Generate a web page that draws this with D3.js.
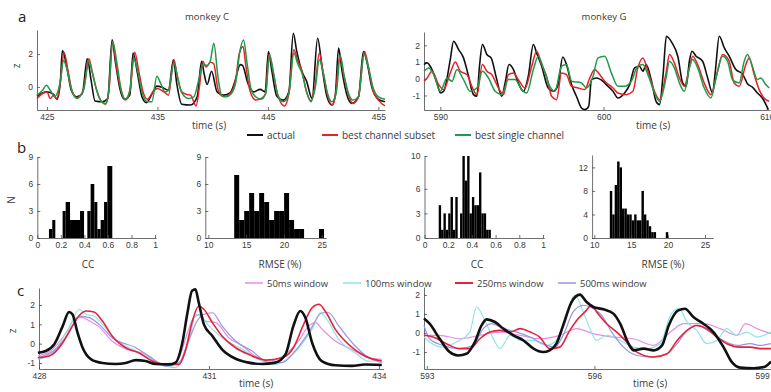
<!DOCTYPE html>
<html>
<head>
<meta charset="utf-8">
<script src="https://cdn.jsdelivr.net/npm/d3@7"></script>
<style>
  body { margin: 0; background: #fff; }
  svg { font-family: "Open Sans", sans-serif; }
</style>
</head>
<body>
<svg id="fig" width="771" height="392"></svg>
<script>
// ---- panel a, monkey C: [time (s), z]
const aC_actual = [[424.1,-0.55],[425.0,-0.3],[425.6,-0.45],[425.9,-0.75],[426.2,0.2],[426.4,2.2],[426.8,1.2],[427.2,-0.2],[427.7,-0.6],[428.2,-0.4],[428.65,1.7],[429.0,0.4],[429.35,-0.85],[430.0,-0.9],[430.5,-0.7],[430.9,2.85],[431.2,1.5],[431.6,-0.1],[432.0,-0.75],[432.5,-0.5],[432.8,2.05],[433.2,0.8],[433.6,-0.6],[434.0,-0.95],[434.6,-0.3],[434.95,0.05],[435.5,-0.05],[436.0,-0.2],[436.45,1.65],[436.75,0.2],[437.2,-1.05],[438.0,-1.1],[438.6,-0.6],[439.0,1.55],[439.2,0.9],[439.5,0.15],[439.9,0.95],[440.4,-0.3],[441.0,-0.5],[441.6,-0.35],[442.0,0.3],[442.5,1.35],[442.7,1.3],[443.2,0.2],[443.7,-0.3],[444.3,-0.15],[444.75,-0.3],[445.05,2.15],[445.35,1.0],[445.8,-0.55],[446.4,-0.8],[446.9,-0.3],[447.3,3.25],[447.6,2.2],[448.1,0.9],[448.5,0.35],[449.0,-0.7],[449.5,2.95],[449.9,1.2],[450.35,-0.6],[450.8,-1.1],[451.1,-0.5],[451.4,2.35],[451.7,1.0],[452.2,-0.6],[452.6,-1.0],[453.2,-0.6],[453.65,2.15],[454.0,1.4],[454.4,0.0],[455.0,-0.75],[455.6,-0.9]]
const aC_subset = [[424.1,-0.7],[424.6,-0.4],[425.0,-0.3],[425.3,-0.7],[425.6,-0.5],[425.9,-0.7],[426.25,0.5],[426.55,2.1],[426.9,1.0],[427.3,-0.3],[427.7,-0.65],[428.3,-0.2],[428.8,1.7],[429.1,0.9],[429.5,-0.2],[429.9,-0.85],[430.3,-1.05],[430.6,-0.3],[430.95,2.75],[431.3,1.2],[431.7,-0.2],[432.1,-0.8],[432.5,-0.3],[432.95,2.1],[433.3,1.0],[433.7,-0.3],[434.1,-0.75],[434.5,-0.4],[435.0,-0.1],[435.6,-0.3],[436.0,-0.5],[436.5,1.65],[436.8,0.6],[437.2,-0.3],[437.6,-0.45],[438.0,-0.5],[438.5,-1.15],[438.8,0.0],[439.1,1.55],[439.4,1.2],[439.8,1.5],[440.1,1.4],[440.5,-0.2],[441.0,-0.6],[441.6,-0.4],[442.1,0.5],[442.4,2.0],[442.75,2.45],[443.0,1.3],[443.4,-0.3],[443.9,-0.8],[444.4,-0.7],[444.8,-0.4],[445.1,1.95],[445.5,0.8],[445.9,-0.5],[446.5,-1.15],[446.9,-0.4],[447.35,2.25],[447.7,1.6],[448.1,0.9],[448.5,-0.3],[448.9,-0.9],[449.3,0.2],[449.65,2.05],[450.0,0.9],[450.4,-0.5],[450.8,-1.1],[451.1,-0.6],[451.5,1.85],[451.9,0.6],[452.3,-0.5],[452.7,-1.0],[453.2,-0.6],[453.75,2.15],[454.1,1.2],[454.5,-0.2],[455.0,-0.8],[455.6,-1.15]]
const aC_single = [[424.1,-0.5],[424.6,-0.2],[424.95,0.1],[425.3,-0.2],[425.7,-0.6],[426.2,0.3],[426.5,1.6],[426.8,1.1],[427.2,-0.1],[427.7,-0.7],[428.3,-0.2],[428.8,1.55],[429.1,0.9],[429.5,-0.2],[429.9,-0.85],[430.3,-1.0],[430.6,-0.2],[430.95,2.75],[431.3,1.6],[431.7,-0.1],[432.1,-0.75],[432.5,-0.2],[432.85,1.75],[433.2,1.0],[433.6,-0.3],[434.1,-0.9],[434.5,-0.9],[434.95,0.65],[435.3,0.2],[435.7,-0.3],[436.0,-0.2],[436.5,1.45],[436.8,0.7],[437.2,-0.35],[437.8,-0.7],[438.3,-0.6],[438.8,0.6],[439.1,1.35],[439.5,1.3],[439.8,1.6],[440.1,2.65],[440.5,0.5],[440.8,-0.5],[441.2,-0.6],[441.7,-0.4],[442.1,0.3],[442.45,2.1],[442.8,2.85],[443.1,1.5],[443.5,-0.2],[443.9,-0.6],[444.4,-0.75],[444.8,-0.4],[445.15,1.95],[445.5,0.9],[445.9,-0.5],[446.4,-0.9],[446.9,-0.4],[447.35,2.05],[447.7,1.4],[448.1,0.8],[448.5,-0.3],[448.9,-0.85],[449.3,0.0],[449.65,1.65],[450.0,0.9],[450.4,-0.4],[450.8,-0.9],[451.2,-0.3],[451.55,1.9],[451.9,0.7],[452.3,-0.4],[452.7,-0.8],[453.2,-0.6],[453.7,2.0],[454.1,1.2],[454.5,0.0],[455.0,-0.6],[455.6,-0.75]]

// ---- panel a, monkey G
const aG_actual = [[589.0,0.85],[589.19,0.95],[589.49,0.55],[589.8,-0.25],[590.0,-0.85],[590.2,-0.75],[590.61,1.15],[590.81,2.25],[591.12,1.75],[591.42,1.25],[591.73,0.15],[592.03,-0.95],[592.24,-1.05],[592.4,0.75],[592.58,2.05],[592.85,1.45],[593.11,1.25],[593.46,-0.05],[593.76,-1.05],[593.97,-0.25],[594.21,0.85],[594.48,0.55],[594.78,-0.25],[595.09,-0.75],[595.39,0.15],[595.7,2.05],[595.9,1.55],[596.21,0.75],[596.61,-0.55],[596.92,-0.75],[597.22,-0.35],[597.5,1.3],[597.73,0.85],[598.04,-0.35],[598.34,-1.05],[598.65,-1.75],[598.85,-1.85],[599.09,-1.65],[599.26,-0.05],[599.56,0.05],[599.97,-0.15],[600.17,-0.35],[600.58,-0.75],[600.88,-1.15],[601.29,-0.85],[601.6,-0.35],[601.9,0.65],[602.2,0.75],[602.41,0.45],[602.61,0.85],[602.92,-0.05],[603.22,-1.35],[603.43,-1.55],[603.65,0.25],[603.85,2.55],[604.2,2.15],[604.55,1.35],[604.85,-0.25],[605.06,-0.45],[605.26,1.05],[605.42,1.65],[605.67,1.35],[606.07,1.05],[606.38,0.05],[606.68,-0.85],[606.85,0.45],[607.09,2.55],[607.4,1.85],[607.7,1.35],[608.11,0.55],[608.51,0.3],[608.82,-0.3],[609.12,-0.5],[609.43,-0.85],[609.73,-1.15],[610.1,-1.85]]
const aG_subset = [[589.0,-0.15],[589.19,0.05],[589.49,0.45],[589.9,-0.35],[590.2,-0.65],[590.61,0.35],[590.92,1.0],[591.22,0.45],[591.63,0.25],[591.97,-0.55],[592.24,-0.95],[592.58,0.85],[592.85,0.45],[593.15,0.25],[593.56,-0.55],[593.87,-0.95],[594.17,0.25],[594.48,0.35],[594.78,-0.05],[595.19,-0.55],[595.6,0.75],[595.9,1.65],[596.21,0.85],[596.51,0.15],[596.82,-1.05],[597.12,-1.25],[597.43,0.35],[597.73,0.25],[598.04,-0.45],[598.44,-0.55],[598.85,-0.65],[599.16,0.05],[599.46,0.55],[599.76,0.25],[600.07,-0.15],[600.58,-0.55],[600.88,-0.85],[601.39,-0.95],[601.8,-0.75],[602.1,0.65],[602.41,1.25],[602.72,0.45],[603.12,-0.75],[603.43,-1.25],[603.83,0.35],[604.04,1.45],[604.34,0.95],[604.65,0.05],[604.95,-0.45],[605.26,0.65],[605.46,1.35],[605.77,0.85],[606.17,-0.25],[606.58,-0.95],[606.99,0.45],[607.29,1.45],[607.7,1.05],[608.0,-0.25],[608.31,-0.45],[608.72,0.85],[608.92,1.25],[609.23,0.25],[609.53,-0.65],[609.94,-1.25],[610.15,-1.35]]
const aG_single = [[589.0,0.45],[589.29,0.65],[589.59,0.25],[590.0,-0.75],[590.41,0.05],[590.71,-0.15],[591.02,0.55],[591.42,-0.05],[591.83,-0.75],[592.24,-0.55],[592.58,0.45],[592.95,0.05],[593.36,-0.75],[593.76,-0.95],[594.17,-0.05],[594.58,-0.05],[594.98,-0.65],[595.29,-0.85],[595.7,0.55],[596.0,1.35],[596.31,0.65],[596.71,-0.45],[597.02,-0.75],[597.43,0.75],[597.73,0.85],[598.04,-0.15],[598.65,-0.25],[598.95,-0.55],[599.36,0.15],[599.66,1.25],[600.07,1.35],[600.48,0.35],[600.88,-0.45],[601.29,-0.45],[601.7,-0.15],[602.1,0.75],[602.41,0.85],[602.72,0.25],[603.12,-0.85],[603.43,-1.35],[603.83,0.05],[604.04,1.05],[604.34,0.65],[604.65,-0.25],[604.95,-0.75],[605.26,0.65],[605.46,1.15],[605.77,0.65],[606.17,-0.55],[606.58,-1.15],[606.89,0.05],[607.29,1.35],[607.6,1.05],[607.9,-0.05],[608.31,-0.25],[608.62,1.05],[608.82,1.45],[609.12,0.75],[609.43,-0.05],[609.63,0.05],[609.94,-0.35],[610.15,-0.55]]

// ---- panel b, histograms: bin edges and counts
const ccC_edges = [0.099,0.127,0.153,0.215,0.241,0.278,0.363,0.397,0.425,0.453,0.484,0.51,0.538,0.567,0.595,0.637]
const ccC_counts = [1,2,0,3,4,2,3,0,3,6,4,1,2,4,8]
const rmseC_edges = [13.42,14.08,14.74,15.4,16.06,16.72,17.38,18.04,18.7,19.36,20.02,20.68,21.34,22.0,22.66,23.32,23.98,24.64,25.3]
const rmseC_counts = [7,2,3,5,3,5,4,2,3,3,5,2,1,1,0,0,0,1]
const ccG_edges = [0.12,0.14,0.16,0.18,0.2,0.22,0.24,0.26,0.28,0.3,0.32,0.34,0.36,0.38,0.4,0.42,0.44,0.46,0.48,0.5,0.52,0.54,0.56]
const ccG_counts = [4,1,3,1,3,5,1,5,0,3,10,7,10,3,5,4,4,8,3,3,1,1]
const rmseG_edges = [12.1,12.43,12.76,13.09,13.42,13.75,14.08,14.41,14.74,15.07,15.4,15.73,16.06,16.39,16.72,17.05,17.38,17.71,18.04,18.37,18.7,19.03,19.36,19.69,20.02]
const rmseG_counts = [8,4,9,13,12,5,5,4,4,3,4,3,3,8,4,3,2,1,1,0,0,0,0,1]

// ---- panel c, monkey C
const cC_actual = [[427.98,-0.47],[428.12,-0.38],[428.27,-0.03],[428.42,0.92],[428.53,1.64],[428.59,1.52],[428.68,0.57],[428.77,-0.21],[428.92,-0.81],[429.12,-1.0],[429.35,-1.05],[429.53,-1.0],[429.71,-0.85],[429.88,-0.9],[430.06,-1.05],[430.29,-1.07],[430.41,-0.98],[430.53,0.05],[430.62,1.6],[430.7,2.73],[430.76,2.81],[430.82,2.12],[430.91,1.0],[431.06,0.4],[431.23,-0.29],[431.47,-0.78],[431.7,-0.98],[431.94,-1.05],[432.17,-0.98],[432.35,-0.55],[432.49,0.92],[432.61,1.69],[432.7,1.35],[432.82,0.05],[432.99,-0.9],[433.23,-1.12],[433.52,-1.15],[433.75,-1.08],[434.05,-1.1]]
const cC_w50 = [[427.98,-0.64],[428.24,-0.29],[428.48,0.57],[428.66,1.35],[428.77,1.35],[428.89,1.17],[429.04,0.92],[429.29,0.14],[429.65,-0.38],[429.82,-0.47],[430.06,-0.9],[430.29,-1.16],[430.47,-0.73],[430.62,0.57],[430.73,1.35],[430.85,1.52],[430.94,1.17],[431.12,1.09],[431.35,0.31],[431.59,-0.12],[431.82,-0.64],[432.06,-0.9],[432.35,-0.55],[432.58,0.14],[432.76,0.92],[432.88,1.09],[433.0,0.74],[433.23,0.14],[433.52,-0.29],[433.82,-0.73],[434.05,-0.81]]
const cC_w100 = [[427.98,-0.81],[428.24,-0.47],[428.53,0.83],[428.71,1.78],[428.83,1.52],[428.97,1.43],[429.12,1.0],[429.35,0.22],[429.65,-0.29],[429.88,-0.64],[430.18,-1.07],[430.41,-1.24],[430.56,-0.64],[430.68,0.57],[430.76,1.52],[430.85,1.43],[431.0,0.92],[431.23,0.31],[431.59,-0.29],[431.94,-0.9],[432.17,-1.07],[432.41,-0.73],[432.64,-0.03],[432.85,0.92],[432.96,1.6],[433.08,1.26],[433.29,0.22],[433.58,-0.47],[433.82,-0.9],[434.05,-0.85]]
const cC_w250 = [[427.98,-0.73],[428.18,-0.64],[428.42,0.05],[428.59,0.92],[428.73,1.52],[428.83,1.69],[428.97,1.64],[429.12,1.17],[429.29,0.4],[429.53,-0.21],[429.76,-0.47],[430.0,-0.9],[430.23,-1.07],[430.47,-1.07],[430.59,-0.29],[430.7,1.09],[430.82,1.95],[430.91,1.78],[431.06,1.09],[431.23,0.4],[431.47,-0.21],[431.7,-0.55],[432.0,-0.85],[432.29,-0.73],[432.49,-0.21],[432.67,1.0],[432.82,1.86],[432.94,2.04],[433.05,1.69],[433.23,0.74],[433.46,-0.03],[433.75,-0.64],[434.05,-0.9]]
const cC_w500 = [[427.98,-0.73],[428.29,-0.29],[428.53,0.57],[428.71,1.43],[428.89,1.35],[429.06,1.0],[429.29,0.31],[429.71,-0.21],[429.94,-0.64],[430.23,-1.16],[430.47,-0.98],[430.65,0.22],[430.79,1.17],[430.91,1.52],[431.06,1.6],[431.23,0.92],[431.47,0.14],[431.76,-0.38],[432.06,-0.98],[432.29,-0.98],[432.52,-0.38],[432.76,0.57],[433.0,1.6],[433.11,1.6],[433.29,0.92],[433.58,-0.12],[433.82,-0.73],[434.05,-0.98]]

// ---- panel c, monkey G
const cG_actual = [[592.95,0.76],[593.05,0.49],[593.23,-0.3],[593.41,-1.0],[593.56,-1.18],[593.71,-1.09],[593.86,-0.47],[593.98,0.4],[594.07,0.72],[594.22,0.58],[594.37,0.23],[594.55,-0.12],[594.73,-0.39],[594.91,-0.82],[595.08,-1.0],[595.2,-0.91],[595.32,-0.56],[595.44,0.4],[595.59,1.63],[595.74,2.02],[595.86,1.63],[595.98,1.37],[596.16,1.25],[596.34,1.02],[596.46,0.49],[596.61,-0.56],[596.7,-0.91],[596.88,-0.82],[597.06,-0.91],[597.21,-0.65],[597.33,0.4],[597.5,1.19],[597.62,1.28],[597.77,0.84],[597.95,0.49],[598.13,0.05],[598.31,-0.74],[598.46,-1.53],[598.61,-1.82],[598.85,-1.85],[599.03,-1.79],[599.16,-1.5]]
const cG_w50 = [[592.95,-0.12],[593.23,-0.12],[593.59,-0.3],[593.95,-0.12],[594.31,0.05],[594.67,-0.12],[595.02,-0.3],[595.38,-0.12],[595.68,0.23],[595.98,-0.03],[596.34,-0.21],[596.7,-0.3],[597.06,-0.65],[597.36,0.05],[597.6,0.49],[597.95,0.49],[598.25,0.23],[598.55,-0.12],[598.7,0.49],[598.91,0.23],[599.16,-0.03]]
const cG_w100 = [[592.95,-0.21],[593.05,-0.47],[593.29,-0.74],[593.53,-0.47],[593.77,0.05],[593.89,1.37],[594.04,0.67],[594.19,-0.3],[594.31,-0.82],[594.49,-0.12],[594.67,-0.39],[594.91,-0.39],[595.14,-0.65],[595.32,-0.39],[595.5,0.93],[595.65,2.0],[595.8,1.11],[595.92,0.23],[596.04,-0.39],[596.22,-0.12],[596.46,-0.39],[596.7,-0.74],[596.94,-0.82],[597.18,-0.56],[597.36,0.93],[597.51,1.28],[597.66,0.58],[597.83,0.14],[598.01,-0.56],[598.19,-0.39],[598.37,0.23],[598.55,-0.12],[598.73,0.05],[598.91,-0.21],[599.16,0.05]]
const cG_w250 = [[592.95,-0.12],[593.11,-0.21],[593.35,-0.56],[593.59,-0.82],[593.77,-0.82],[593.95,-0.3],[594.13,0.05],[594.31,0.14],[594.49,0.05],[594.67,0.23],[594.85,0.05],[595.02,-0.21],[595.2,-0.82],[595.38,-0.74],[595.56,0.14],[595.71,0.76],[595.83,1.11],[595.95,1.46],[596.04,1.11],[596.22,0.49],[596.4,0.05],[596.58,-0.47],[596.76,-1.0],[597.06,-1.26],[597.3,-1.09],[597.48,-0.39],[597.66,0.14],[597.83,0.4],[598.01,0.23],[598.19,-0.21],[598.37,-0.56],[598.61,-0.74],[598.79,-0.74],[598.97,-0.82],[599.16,-0.82]]
const cG_w500 = [[592.95,0.4],[593.05,-0.3],[593.29,-0.65],[593.59,-0.82],[593.83,-0.65],[594.01,0.23],[594.16,0.49],[594.37,0.23],[594.61,0.05],[594.85,-0.21],[595.08,-0.56],[595.29,-0.74],[595.44,-0.12],[595.62,1.11],[595.8,1.46],[595.98,1.28],[596.13,0.93],[596.31,0.05],[596.52,-0.74],[596.76,-1.18],[597.06,-1.26],[597.3,-1.09],[597.48,-0.56],[597.66,0.14],[597.83,0.4],[598.07,0.05],[598.31,-0.39],[598.55,-0.65],[598.79,-0.56],[598.97,-0.65],[599.16,-0.56]]

// ---- tick labels
const aC_xticks = [425, 435, 445, 455]
const aC_yticks = [0, 2]
const aG_xticks = [590, 600, 610]
const aG_yticks = [-1, 0, 1, 2]
const cc_xticks = [0, 0.2, 0.4, 0.6, 0.8, 1]
const rmse_xticks = [10, 15, 20, 25]
const histC_yticks = [0, 3, 6, 9]
const ccG_yticks = [0, 3, 6, 10]
const rmseG_yticks = [0, 4, 8, 12]
const cC_xticks = [428, 431, 434]
const cG_xticks = [593, 596, 599]
const c_yticks = [-1, 0, 1, 2]

const legendA = ['actual', 'best channel subset', 'best single channel']
const legendC = ['50ms window', '100ms window', '250ms window', '500ms window']

const colors = {
  actual: '#111111',
  subset: '#e8202a',
  single: '#1f9a48',
  w50: '#e68ee4',
  w100: '#8fe4e6',
  w250: '#e4223a',
  w500: '#9a93e2',
}

const svg = d3.select('#fig')
const axisColor = '#4a4a4a'
const textColor = '#3a3a3a'

function finishAxis(g) {
  g.select('.domain').attr('stroke', axisColor).attr('stroke-width', 0.8)
  g.selectAll('.tick line').attr('stroke', axisColor).attr('stroke-width', 0.8)
  g.selectAll('.tick text').attr('fill', textColor).attr('font-size', 8.5)
}

function addAxes(x, y, xTicks, yTicks) {
  svg.append('g')
    .attr('transform', `translate(0,${y.range()[0]})`)
    .call(d3.axisBottom(x).tickValues(xTicks).tickSize(-3).tickSizeOuter(0).tickPadding(4).tickFormat(String))
    .call(finishAxis)
  svg.append('g')
    .attr('transform', `translate(${x.range()[0]},0)`)
    .call(d3.axisLeft(y).tickValues(yTicks).tickSize(-3).tickSizeOuter(0).tickPadding(4).tickFormat(String))
    .call(finishAxis)
}

function drawLines(x, y, series) {
  const line = d3.line()
    .x(d => x(d[0]))
    .y(d => y(d[1]))
    .curve(d3.curveMonotoneX)
  series.forEach(s => {
    svg.append('path')
      .attr('d', line(s.data))
      .attr('fill', 'none')
      .attr('stroke', s.color)
      .attr('stroke-width', s.width)
      .attr('stroke-linejoin', 'round')
  })
}

function drawHist(x, y, edges, counts) {
  svg.append('g').selectAll('rect')
    .data(counts)
    .join('rect')
      .attr('x', (d, i) => x(edges[i]))
      .attr('width', (d, i) => x(edges[i + 1]) - x(edges[i]))
      .attr('y', d => y(d))
      .attr('height', d => y(0) - y(d))
      .attr('fill', '#000')
}

function text(x, y, str, opts = {}) {
  const t = svg.append('text')
    .attr('x', x).attr('y', y)
    .attr('fill', opts.color || textColor)
    .attr('font-size', opts.size || 10)
    .attr('text-anchor', opts.anchor || 'middle')
    .text(str)
  if (opts.rotate) t.attr('transform', `rotate(-90,${x},${y})`)
  return t
}

// ---- panel a
const xaC = d3.scaleLinear().domain([424.1, 455.6]).range([37, 385])
const yaC = d3.scaleLinear().domain([-1.4, 3.45]).range([110, 30])
addAxes(xaC, yaC, aC_xticks, aC_yticks)
drawLines(xaC, yaC, [
  { data: aC_actual, color: colors.actual, width: 1.6 },
  { data: aC_subset, color: colors.subset, width: 1.5 },
  { data: aC_single, color: colors.single, width: 1.5 },
])

const xaG = d3.scaleLinear().domain([589.0, 610.2]).range([424, 770])
const yaG = d3.scaleLinear().domain([-1.87, 2.8]).range([110, 32])
addAxes(xaG, yaG, aG_xticks, aG_yticks)
drawLines(xaG, yaG, [
  { data: aG_actual, color: colors.actual, width: 1.6 },
  { data: aG_subset, color: colors.subset, width: 1.5 },
  { data: aG_single, color: colors.single, width: 1.5 },
])

text(18, 22, 'a', { size: 15, anchor: 'start', color: '#222' })
text(207, 20, 'monkey C', { size: 9.5 })
text(604, 20, 'monkey G', { size: 9.5 })
text(20, 66, 'z', { size: 10, rotate: true })
text(209, 129, 'time (s)', { size: 10 })
text(653, 129, 'time (s)', { size: 10 })

// legend a
const legAx = [247, 322, 455]
const legAcol = [colors.actual, colors.subset, colors.single]
legendA.forEach((name, i) => {
  svg.append('line')
    .attr('x1', legAx[i]).attr('x2', legAx[i] + 16)
    .attr('y1', 135).attr('y2', 135)
    .attr('stroke', legAcol[i]).attr('stroke-width', 2)
  text(legAx[i] + 20, 139, name, { size: 10, anchor: 'start' })
})

// ---- panel b
const xh1 = d3.scaleLinear().domain([0, 1.01]).range([37.3, 156.2])
const yh1 = d3.scaleLinear().domain([0, 9]).range([238, 157])
drawHist(xh1, yh1, ccC_edges, ccC_counts)
addAxes(xh1, yh1, cc_xticks, histC_yticks)

const xh2 = d3.scaleLinear().domain([9.6, 25.6]).range([205.3, 326.3])
const yh2 = d3.scaleLinear().domain([0, 9]).range([238, 157])
drawHist(xh2, yh2, rmseC_edges, rmseC_counts)
addAxes(xh2, yh2, rmse_xticks, histC_yticks)

const xh3 = d3.scaleLinear().domain([0, 1.01]).range([424.5, 544.2])
const yh3 = d3.scaleLinear().domain([0, 10]).range([238, 156])
drawHist(xh3, yh3, ccG_edges, ccG_counts)
addAxes(xh3, yh3, cc_xticks, ccG_yticks)

const xh4 = d3.scaleLinear().domain([9.7, 26.1]).range([592.1, 713.1])
const yh4 = d3.scaleLinear().domain([0, 14.1]).range([238, 155])
drawHist(xh4, yh4, rmseG_edges, rmseG_counts)
addAxes(xh4, yh4, rmse_xticks, rmseG_yticks)

text(17, 153, 'b', { size: 15, anchor: 'start', color: '#222' })
text(15, 200, 'N', { size: 10, rotate: true })
text(88, 268, 'CC', { size: 10 })
text(280, 268, 'RMSE (%)', { size: 10 })
text(477, 268, 'CC', { size: 10 })
text(663, 268, 'RMSE (%)', { size: 10 })

// ---- panel c
const xcC = d3.scaleLinear().domain([428, 434.08]).range([39, 383.5])
const ycC = d3.scaleLinear().domain([-1.31, 2.88]).range([369, 288])
addAxes(xcC, ycC, cC_xticks, c_yticks)
drawLines(xcC, ycC, [
  { data: cC_w50, color: colors.w50, width: 1.2 },
  { data: cC_w100, color: colors.w100, width: 1.2 },
  { data: cC_w500, color: colors.w500, width: 1.2 },
  { data: cC_w250, color: colors.w250, width: 1.6 },
  { data: cC_actual, color: colors.actual, width: 2.6 },
])

const xcG = d3.scaleLinear().domain([592.95, 599.16]).range([424, 771])
const ycG = d3.scaleLinear().domain([-1.89, 2.42]).range([369, 287])
addAxes(xcG, ycG, cG_xticks, c_yticks)
drawLines(xcG, ycG, [
  { data: cG_w50, color: colors.w50, width: 1.2 },
  { data: cG_w100, color: colors.w100, width: 1.2 },
  { data: cG_w500, color: colors.w500, width: 1.2 },
  { data: cG_w250, color: colors.w250, width: 1.6 },
  { data: cG_actual, color: colors.actual, width: 2.6 },
])

text(17, 296, 'c', { size: 15, anchor: 'start', color: '#222' })
text(16, 331, 'z', { size: 10, rotate: true })
text(256, 387, 'time (s)', { size: 10 })
text(650, 387, 'time (s)', { size: 10 })

// legend c
const legCx = [245, 343, 455, 558]
const legCcol = [colors.w50, colors.w100, colors.w250, colors.w500]
legendC.forEach((name, i) => {
  svg.append('line')
    .attr('x1', legCx[i]).attr('x2', legCx[i] + 18)
    .attr('y1', 283).attr('y2', 283)
    .attr('stroke', legCcol[i]).attr('stroke-width', i === 2 ? 2 : 1.5)
  text(legCx[i] + 22, 286.5, name, { size: 9.5, anchor: 'start' })
})
</script>
</body>
</html>
